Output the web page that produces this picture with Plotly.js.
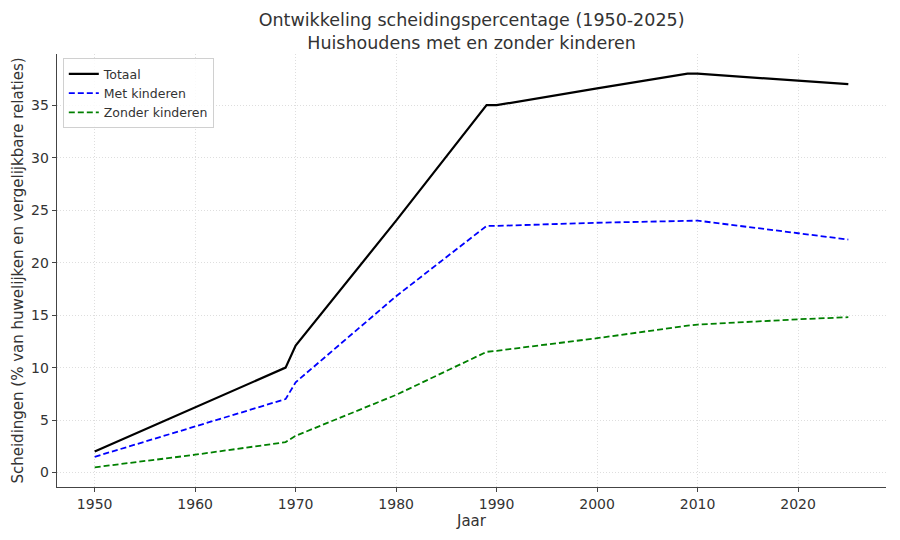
<!DOCTYPE html>
<html>
<head>
<meta charset="utf-8">
<script src="https://cdn.plot.ly/plotly-3.0.1.min.js"></script>
<style>
  html, body { margin: 0; padding: 0; background: #fff; }
  #chart { width: 900px; height: 540px; }
</style>
</head>
<body>
<div id="chart"></div>
<script>
// jaren en waarden
const years = [1950, 1960, 1969, 1970, 1980, 1989, 1990, 2000, 2009, 2010, 2020, 2025];
const totaal = [2.0, 6.2, 10.0, 12.1, 24.0, 35.0, 35.0, 36.6, 38.0, 38.0, 37.3, 37.0];
const metKinderen = [1.5, 4.4, 7.0, 8.6, 16.8, 23.5, 23.5, 23.8, 24.0, 24.0, 22.8, 22.2];
const zonderKinderen = [0.5, 1.7, 2.9, 3.5, 7.4, 11.5, 11.6, 12.8, 14.0, 14.1, 14.6, 14.8];
const seriesNames = ["Totaal", "Met kinderen", "Zonder kinderen"];
const yTicks = [0, 5, 10, 15, 20, 25, 30, 35];
const xTicks = [1950, 1960, 1970, 1980, 1990, 2000, 2010, 2020];

const font = "DejaVu Sans, sans-serif";

const traces = [
  { x: years, y: totaal, name: seriesNames[0], mode: "lines",
    line: { color: "#000000", width: 2.2 } },
  { x: years, y: metKinderen, name: seriesNames[1], mode: "lines",
    line: { color: "#0000ff", width: 1.8, dash: "6px,3px" } },
  { x: years, y: zonderKinderen, name: seriesNames[2], mode: "lines",
    line: { color: "#008000", width: 1.8, dash: "6px,3px" } }
];

const axisBase = {
  showline: true,
  linecolor: "#444",
  linewidth: 1.3,
  ticks: "outside",
  ticklen: 4,
  tickwidth: 1,
  tickcolor: "#444",
  showgrid: true,
  gridcolor: "#dedede",
  griddash: "1px,2px",
  gridwidth: 1,
  zeroline: false,
  tickfont: { family: font, size: 14, color: "#333" },
  mirror: false
};

const layout = {
  width: 900,
  height: 540,
  margin: { l: 57, r: 14, t: 54, b: 53 },
  paper_bgcolor: "#fff",
  plot_bgcolor: "#fff",
  font: { family: font, color: "#333" },
  title: {
    text: "Ontwikkeling scheidingspercentage (1950-2025)<br>Huishoudens met en zonder kinderen",
    font: { family: font, size: 17.5, color: "#333" },
    x: 0.524, xanchor: "center",
    y: 0.952, yanchor: "top"
  },
  xaxis: Object.assign({}, axisBase, {
    range: [1946.25, 2028.75],
    tickvals: xTicks,
    title: { text: "Jaar", font: { family: font, size: 15, color: "#333" }, standoff: 2 }
  }),
  yaxis: Object.assign({}, axisBase, {
    range: [-1.375, 39.875],
    tickvals: yTicks,
    title: { text: "Scheidingen (% van huwelijken en vergelijkbare relaties)",
             font: { family: font, size: 15, color: "#333" }, standoff: 3 }
  }),
  legend: {
    x: 0.007, y: 0.99, xanchor: "left", yanchor: "top",
    bgcolor: "rgba(255,255,255,0.85)",
    bordercolor: "#d0d0d0",
    borderwidth: 1,
    font: { family: font, size: 12.5, color: "#333" },
    tracegroupgap: 0,
    itemwidth: 30
  },
  showlegend: true
};

Plotly.newPlot("chart", traces, layout, { staticPlot: true });
</script>
</body>
</html>
